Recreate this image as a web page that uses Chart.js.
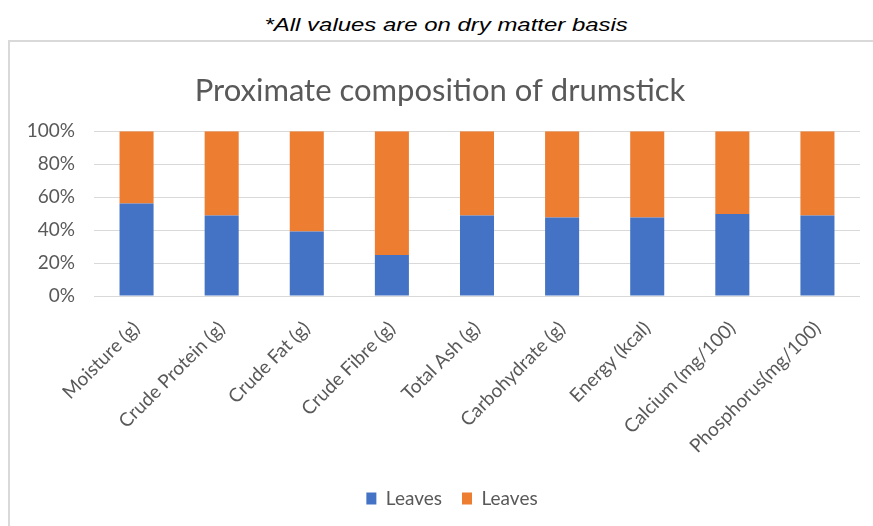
<!DOCTYPE html>
<html>
<head>
<meta charset="utf-8">
<script src="https://cdn.jsdelivr.net/npm/chart.js@4.4.1/dist/chart.umd.min.js"></script>
<style>
  body { margin: 0; background: #fff; width: 873px; height: 526px; overflow: hidden; position: relative; }
  #note {
    position: absolute; left: 0; width: 893px; top: 14px; text-align: center;
    font-family: "Liberation Sans", Arial, sans-serif; font-style: italic; font-size: 19px; color: #000;
  }
  #note span { display: inline-block; transform: scaleX(1.26); }
  #frame {
    position: absolute; left: 8px; top: 40px; width: 900px; height: 600px;
    border: 2px solid #d9d9d9; box-sizing: border-box;
  }
  #wrap { position: absolute; left: 10px; top: 42px; width: 863px; height: 484px; }
</style>
</head>
<body>
<div id="note"><span>*All values are on dry matter basis</span></div>
<div id="frame"></div>
<div id="wrap"><canvas id="chart"></canvas></div>
<script>
// share of each nutrient (percent of the 100% stacked bar)
const categories = ['Moisture (g)', 'Crude Protein (g)', 'Crude Fat (g)', 'Crude Fibre (g)', 'Total Ash (g)',
    'Carbohydrate (g)', 'Energy (kcal)', 'Calcium (mg/100)', 'Phosphorus(mg/100)'];
const leavesBlue = [56.2, 48.9, 39.1, 24.9, 48.9, 47.7, 47.7, 49.7, 48.9];
const leavesOrange = [43.8, 51.1, 60.9, 75.1, 51.1, 52.3, 52.3, 50.3, 51.1];
const yTicks = [0, 20, 40, 60, 80, 100];

const textGrey = '#595959';
const ctx = document.getElementById('chart').getContext('2d');

// legend sits a little right of the title in the original
const nudgeLegend = {
    id: 'nudgeLegend',
    afterLayout(chart) {
        chart.legend.left += 12;
        chart.legend.right += 12;
    }
};

new Chart(ctx, {
    type: 'bar',
    data: {
        labels: categories,
        datasets: [
            { label: 'Leaves', data: leavesBlue, backgroundColor: '#4472C4', barPercentage: 0.4, categoryPercentage: 1 },
            { label: 'Leaves', data: leavesOrange, backgroundColor: '#ED7D31', barPercentage: 0.4, categoryPercentage: 1 }
        ]
    },
    plugins: [nudgeLegend],
    options: {
        responsive: true,
        maintainAspectRatio: false,
        animation: false,
        layout: { padding: { left: 10, right: 13, top: 0, bottom: 8 } },
        plugins: {
            title: {
                display: true,
                text: 'Proximate composition of drumstick',
                color: textGrey,
                font: { family: 'Lato', size: 31, weight: 'normal' },
                padding: { top: 30, bottom: 22 }
            },
            legend: {
                position: 'bottom',
                labels: {
                    color: textGrey,
                    font: { family: 'Lato', size: 19 },
                    boxWidth: 10,
                    boxHeight: 12,
                    padding: 20
                }
            },
            tooltip: { enabled: false }
        },
        scales: {
            x: {
                stacked: true,
                grid: { display: false },
                border: { display: false },
                ticks: {
                    color: textGrey,
                    font: { family: 'Lato', size: 19 },
                    maxRotation: 45,
                    minRotation: 45,
                    padding: 13,
                    autoSkip: false
                },
                afterFit: function(scale) { scale.height = 173; }
            },
            y: {
                stacked: true,
                min: 0,
                max: 100,
                afterBuildTicks: function(scale) { scale.ticks = yTicks.map(v => ({ value: v })); },
                grid: { color: '#d9d9d9', drawTicks: false },
                border: { display: false },
                ticks: {
                    color: textGrey,
                    font: { family: 'Lato', size: 19 },
                    padding: 19,
                    callback: v => v + '%'
                },
                afterFit: function(scale) { scale.width = 74; }
            }
        }
    }
});
</script>
</body>
</html>
